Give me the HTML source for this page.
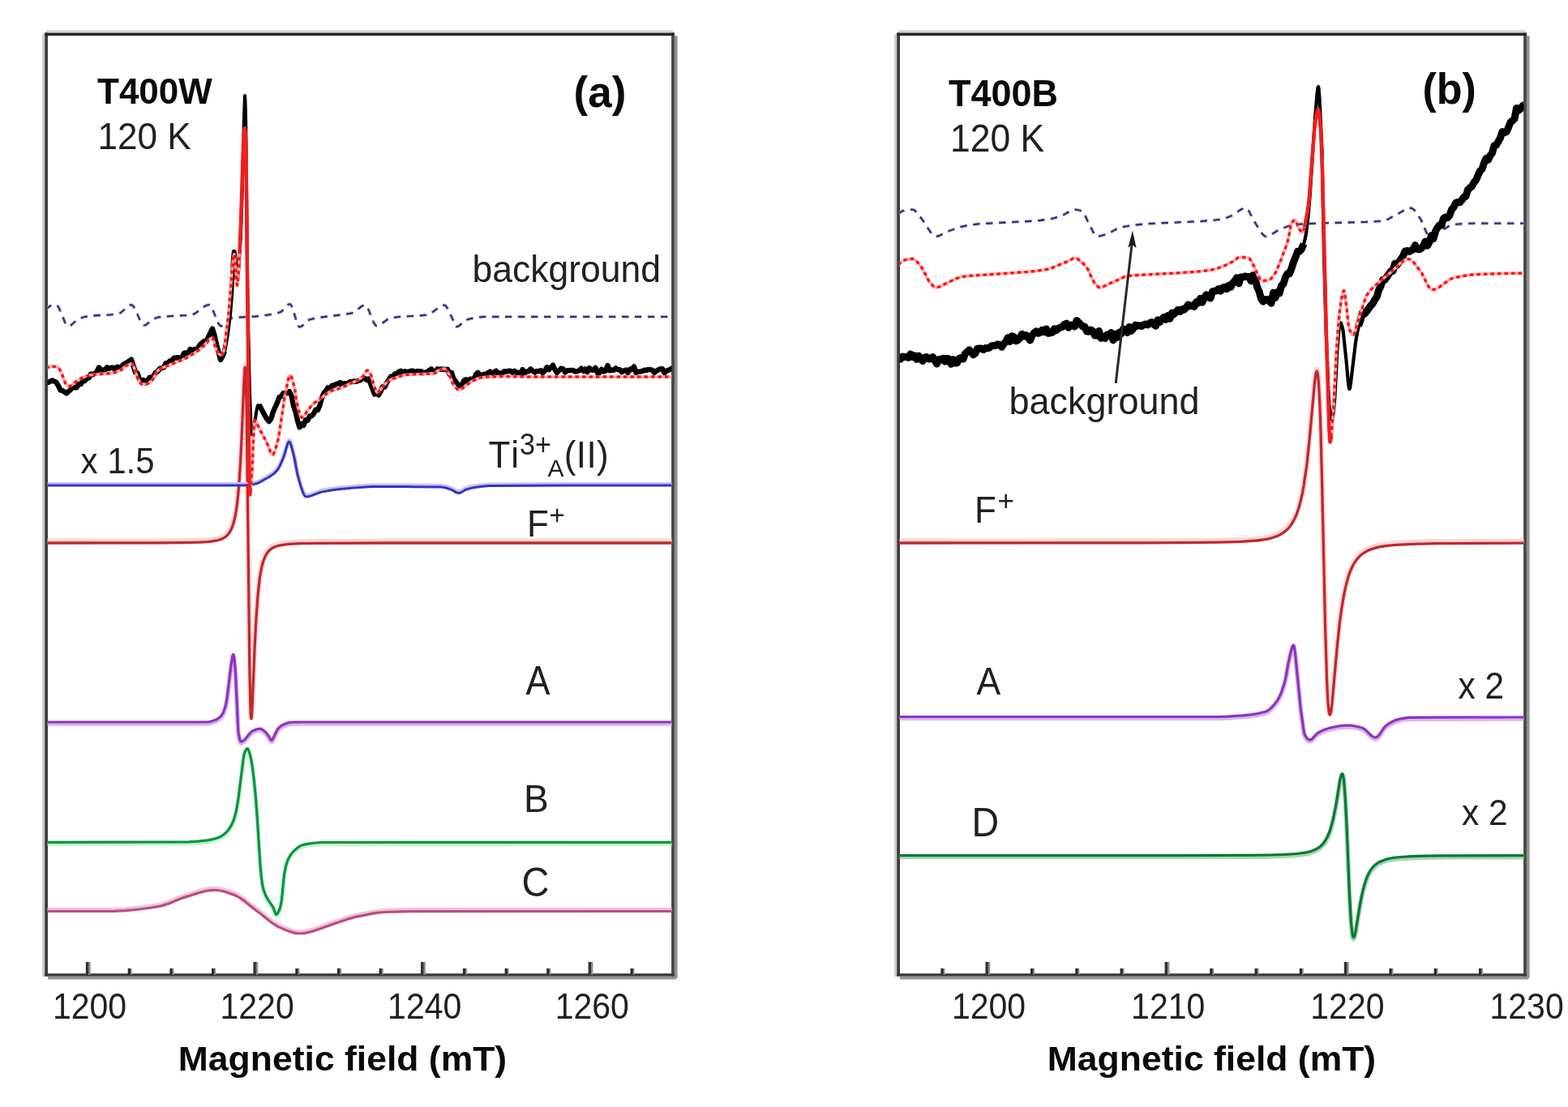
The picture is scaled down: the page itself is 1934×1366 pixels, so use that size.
<!DOCTYPE html><html><head><meta charset="utf-8"><style>html,body{margin:0;padding:0;background:#fff;}svg{display:block}</style></head><body><svg width="1934" height="1366" viewBox="0 0 1934 1366"><rect width="1934" height="1366" fill="#fff"/><line x1="53.6" y1="42.2" x2="53.6" y2="1205" stroke="#cacaca" stroke-width="3"/><line x1="57.1" y1="38.7" x2="830" y2="38.7" stroke="#d2d2d2" stroke-width="3"/><line x1="833.8" y1="44.2" x2="833.8" y2="1207" stroke="#909090" stroke-width="3.6"/><line x1="59.1" y1="1206.8" x2="834" y2="1206.8" stroke="#929292" stroke-width="3.6"/><line x1="57.1" y1="40.4" x2="57.1" y2="1204.8" stroke="#3c3c3c" stroke-width="3.8"/><line x1="830" y1="40.4" x2="830" y2="1204.8" stroke="#464646" stroke-width="3.8"/><line x1="55.3" y1="42.2" x2="831.8" y2="42.2" stroke="#252525" stroke-width="3.6"/><line x1="55.3" y1="1203" x2="831.8" y2="1203" stroke="#3a3a3a" stroke-width="3.6"/><line x1="1104.6" y1="42.2" x2="1104.6" y2="1205" stroke="#cacaca" stroke-width="3"/><line x1="1108.1" y1="38.7" x2="1881" y2="38.7" stroke="#d2d2d2" stroke-width="3"/><line x1="1884.8" y1="44.2" x2="1884.8" y2="1207" stroke="#909090" stroke-width="3.6"/><line x1="1110.1" y1="1206.8" x2="1885" y2="1206.8" stroke="#929292" stroke-width="3.6"/><line x1="1108.1" y1="40.4" x2="1108.1" y2="1204.8" stroke="#3c3c3c" stroke-width="3.8"/><line x1="1881" y1="40.4" x2="1881" y2="1204.8" stroke="#464646" stroke-width="3.8"/><line x1="1106.3" y1="42.2" x2="1882.8" y2="42.2" stroke="#252525" stroke-width="3.6"/><line x1="1106.3" y1="1203" x2="1882.8" y2="1203" stroke="#3a3a3a" stroke-width="3.6"/><line x1="110.1" y1="1187" x2="110.1" y2="1203" stroke="#8a8a8a" stroke-width="3"/><line x1="107.5" y1="1187" x2="107.5" y2="1203" stroke="#333" stroke-width="3.4"/><line x1="316.7" y1="1187" x2="316.7" y2="1203" stroke="#8a8a8a" stroke-width="3"/><line x1="314.1" y1="1187" x2="314.1" y2="1203" stroke="#333" stroke-width="3.4"/><line x1="523.3" y1="1187" x2="523.3" y2="1203" stroke="#8a8a8a" stroke-width="3"/><line x1="520.7" y1="1187" x2="520.7" y2="1203" stroke="#333" stroke-width="3.4"/><line x1="729.9" y1="1187" x2="729.9" y2="1203" stroke="#8a8a8a" stroke-width="3"/><line x1="727.3" y1="1187" x2="727.3" y2="1203" stroke="#333" stroke-width="3.4"/><line x1="161.4" y1="1195" x2="161.4" y2="1203" stroke="#8a8a8a" stroke-width="2.6"/><line x1="159.3" y1="1195" x2="159.3" y2="1203" stroke="#2a2a2a" stroke-width="3.2"/><line x1="213.1" y1="1195" x2="213.1" y2="1203" stroke="#8a8a8a" stroke-width="2.6"/><line x1="211" y1="1195" x2="211" y2="1203" stroke="#2a2a2a" stroke-width="3.2"/><line x1="264.8" y1="1195" x2="264.8" y2="1203" stroke="#8a8a8a" stroke-width="2.6"/><line x1="262.6" y1="1195" x2="262.6" y2="1203" stroke="#2a2a2a" stroke-width="3.2"/><line x1="368.1" y1="1195" x2="368.1" y2="1203" stroke="#8a8a8a" stroke-width="2.6"/><line x1="365.9" y1="1195" x2="365.9" y2="1203" stroke="#2a2a2a" stroke-width="3.2"/><line x1="419.7" y1="1195" x2="419.7" y2="1203" stroke="#8a8a8a" stroke-width="2.6"/><line x1="417.6" y1="1195" x2="417.6" y2="1203" stroke="#2a2a2a" stroke-width="3.2"/><line x1="471.4" y1="1195" x2="471.4" y2="1203" stroke="#8a8a8a" stroke-width="2.6"/><line x1="469.2" y1="1195" x2="469.2" y2="1203" stroke="#2a2a2a" stroke-width="3.2"/><line x1="574.6" y1="1195" x2="574.6" y2="1203" stroke="#8a8a8a" stroke-width="2.6"/><line x1="572.5" y1="1195" x2="572.5" y2="1203" stroke="#2a2a2a" stroke-width="3.2"/><line x1="626.3" y1="1195" x2="626.3" y2="1203" stroke="#8a8a8a" stroke-width="2.6"/><line x1="624.2" y1="1195" x2="624.2" y2="1203" stroke="#2a2a2a" stroke-width="3.2"/><line x1="677.9" y1="1195" x2="677.9" y2="1203" stroke="#8a8a8a" stroke-width="2.6"/><line x1="675.8" y1="1195" x2="675.8" y2="1203" stroke="#2a2a2a" stroke-width="3.2"/><line x1="781.2" y1="1195" x2="781.2" y2="1203" stroke="#8a8a8a" stroke-width="2.6"/><line x1="779.1" y1="1195" x2="779.1" y2="1203" stroke="#2a2a2a" stroke-width="3.2"/><line x1="1219.7" y1="1187" x2="1219.7" y2="1203" stroke="#8a8a8a" stroke-width="3"/><line x1="1217.1" y1="1187" x2="1217.1" y2="1203" stroke="#333" stroke-width="3.4"/><line x1="1440.9" y1="1187" x2="1440.9" y2="1203" stroke="#8a8a8a" stroke-width="3"/><line x1="1438.3" y1="1187" x2="1438.3" y2="1203" stroke="#333" stroke-width="3.4"/><line x1="1662.1" y1="1187" x2="1662.1" y2="1203" stroke="#8a8a8a" stroke-width="3"/><line x1="1659.5" y1="1187" x2="1659.5" y2="1203" stroke="#333" stroke-width="3.4"/><line x1="1164.1" y1="1195" x2="1164.1" y2="1203" stroke="#8a8a8a" stroke-width="2.6"/><line x1="1162" y1="1195" x2="1162" y2="1203" stroke="#2a2a2a" stroke-width="3.2"/><line x1="1274.7" y1="1195" x2="1274.7" y2="1203" stroke="#8a8a8a" stroke-width="2.6"/><line x1="1272.6" y1="1195" x2="1272.6" y2="1203" stroke="#2a2a2a" stroke-width="3.2"/><line x1="1330" y1="1195" x2="1330" y2="1203" stroke="#8a8a8a" stroke-width="2.6"/><line x1="1327.9" y1="1195" x2="1327.9" y2="1203" stroke="#2a2a2a" stroke-width="3.2"/><line x1="1385.3" y1="1195" x2="1385.3" y2="1203" stroke="#8a8a8a" stroke-width="2.6"/><line x1="1383.2" y1="1195" x2="1383.2" y2="1203" stroke="#2a2a2a" stroke-width="3.2"/><line x1="1495.9" y1="1195" x2="1495.9" y2="1203" stroke="#8a8a8a" stroke-width="2.6"/><line x1="1493.8" y1="1195" x2="1493.8" y2="1203" stroke="#2a2a2a" stroke-width="3.2"/><line x1="1551.2" y1="1195" x2="1551.2" y2="1203" stroke="#8a8a8a" stroke-width="2.6"/><line x1="1549.1" y1="1195" x2="1549.1" y2="1203" stroke="#2a2a2a" stroke-width="3.2"/><line x1="1606.5" y1="1195" x2="1606.5" y2="1203" stroke="#8a8a8a" stroke-width="2.6"/><line x1="1604.4" y1="1195" x2="1604.4" y2="1203" stroke="#2a2a2a" stroke-width="3.2"/><line x1="1717.1" y1="1195" x2="1717.1" y2="1203" stroke="#8a8a8a" stroke-width="2.6"/><line x1="1715" y1="1195" x2="1715" y2="1203" stroke="#2a2a2a" stroke-width="3.2"/><line x1="1772.4" y1="1195" x2="1772.4" y2="1203" stroke="#8a8a8a" stroke-width="2.6"/><line x1="1770.3" y1="1195" x2="1770.3" y2="1203" stroke="#2a2a2a" stroke-width="3.2"/><line x1="1827.7" y1="1195" x2="1827.7" y2="1203" stroke="#8a8a8a" stroke-width="2.6"/><line x1="1825.6" y1="1195" x2="1825.6" y2="1203" stroke="#2a2a2a" stroke-width="3.2"/><defs><clipPath id="ca"><rect x="58.6" y="43.7" width="769.9" height="1157.8"/></clipPath><clipPath id="cb"><rect x="1109.6" y="43.7" width="769.9" height="1157.8"/></clipPath></defs><g clip-path="url(#ca)"><path d="M57 1122.7L141 1122.6L156 1121.9L172 1120.2L187 1118.2L199 1116.1L207 1113.6L225 1106.3L247 1099.4L253 1097.9L258 1097L263 1096.5L268 1096.7L274 1097.7L280 1099.4L290 1103L295 1105.6L302 1110.6L313 1119.5L321 1125.5L334 1135.9L339 1139.4L343 1141.8L353 1146.1L359 1148.3L365 1149.8L370 1150.2L377 1149.5L385 1147.6L406 1140.2L431 1131.8L438 1129.8L459 1125.6L467 1124.4L475 1123.7L495 1123.1L518 1122.8L830 1122.7" fill="none" stroke="#f4c0d8" stroke-width="5.5" stroke-linejoin="round"/><path d="M57 1124.5L141 1124.4L156 1123.7L172 1122L187 1120L199 1117.9L207 1115.4L225 1108.1L247 1101.2L253 1099.7L258 1098.8L263 1098.3L268 1098.5L274 1099.5L280 1101.2L290 1104.8L295 1107.4L302 1112.4L313 1121.3L321 1127.3L334 1137.7L339 1141.2L343 1143.6L353 1147.9L359 1150.1L365 1151.6L370 1152L377 1151.3L385 1149.4L406 1142L431 1133.6L438 1131.6L459 1127.4L467 1126.2L475 1125.5L495 1124.9L518 1124.6L830 1124.5" fill="none" stroke="#b84c80" stroke-width="3.2" stroke-linejoin="round"/><path d="M57 1041.1L233 1040.7L244 1040L257.5 1038.4L264.5 1036.9L271 1034.7L273.5 1033.3L276.5 1031L279.5 1028.3L281.5 1026L284 1022.4L286 1018.7L287.5 1015.6L289 1011.4L291.5 1001.7L294 987.1L300.5 935.3L301 932.8L302.5 928.7L304 925.9L305 925.3L305.5 925.6L306 926.3L307 928.8L308.5 933.4L309.5 937.6L311 945.8L313 961.5L315 981.3L317 1006.5L321 1069.8L322.5 1085.2L323.5 1092.9L325 1099.4L327.5 1106.2L330.5 1112L336.5 1120.7L337.5 1122.8L339.5 1128.6L340.5 1130.2L341 1130.3L342 1129.4L344 1125.8L345.5 1121.7L346.5 1117.7L347.5 1111.2L350.5 1080.9L353 1068.7L355 1062.9L357 1058.9L359.5 1055.1L362 1052.3L366 1048.7L369 1046.5L372 1044.9L374 1044.2L379 1043.2L388.5 1041.8L397.5 1041.3L830 1041.1" fill="none" stroke="#c8f0d4" stroke-width="5.8" stroke-linejoin="round"/><path d="M57 1039.3L233 1038.9L244 1038.2L257.5 1036.6L264.5 1035.1L271 1032.9L273.5 1031.5L276.5 1029.2L279.5 1026.5L281.5 1024.2L284 1020.6L286 1016.9L287.5 1013.8L289 1009.6L291.5 999.9L294 985.3L300.5 933.5L301 931L302.5 926.9L304 924.1L305 923.5L305.5 923.8L306 924.5L307 927L308.5 931.6L309.5 935.8L311 944L313 959.7L315 979.5L317 1004.7L321 1068L322.5 1083.4L323.5 1091.1L325 1097.6L327.5 1104.4L330.5 1110.2L336.5 1118.9L337.5 1121L339.5 1126.8L340.5 1128.4L341 1128.5L342 1127.6L344 1124L345.5 1119.9L346.5 1115.9L347.5 1109.4L350.5 1079.1L353 1066.9L355 1061.1L357 1057.1L359.5 1053.3L362 1050.5L366 1046.9L369 1044.7L372 1043.1L374 1042.4L379 1041.4L388.5 1040L397.5 1039.5L830 1039.3" fill="none" stroke="#00963a" stroke-width="3.2" stroke-linejoin="round"/><path d="M57 892.8L255.2 892.8L259.2 892.3L264.5 890.6L266.8 889.7L269 888.4L271.2 886.7L272.8 885.1L274.2 883.1L275.5 880.8L277.8 874.3L279 869.1L280.2 862L284.5 826.8L286.2 814.8L287 810.7L287.5 809.3L287.8 809.2L288.2 810.5L289 815.4L290.5 831.7L293.8 904.2L295.5 913.4L296.5 916.1L297.2 916.9L298.2 916.8L299.2 916.3L302 914.4L308.2 906.6L311 904L316 901.9L318.2 901.3L320.5 901L321.8 901.1L323.2 901.7L327.5 905L331.2 909.8L333.8 914.4L334.5 915.2L335 915.3L335.8 914.7L336.5 913.5L342 902.2L343.8 900L346 897.9L350 895.7L354.5 893.9L357.5 893.3L363.5 893L370 892.8L830 892.8" fill="none" stroke="#dcb4ec" stroke-width="5.8" stroke-linejoin="round"/><path d="M57 891L255.2 891L259.2 890.5L264.5 888.8L266.8 887.9L269 886.6L271.2 884.9L272.8 883.3L274.2 881.3L275.5 879L277.8 872.5L279 867.3L280.2 860.2L284.5 825L286.2 813L287 808.9L287.5 807.5L287.8 807.4L288.2 808.7L289 813.6L290.5 829.9L293.8 902.4L295.5 911.6L296.5 914.3L297.2 915.1L298.2 915L299.2 914.5L302 912.6L308.2 904.8L311 902.2L316 900.1L318.2 899.5L320.5 899.2L321.8 899.3L323.2 899.9L327.5 903.2L331.2 908L333.8 912.6L334.5 913.4L335 913.5L335.8 912.9L336.5 911.7L342 900.4L343.8 898.2L346 896.1L350 893.9L354.5 892.1L357.5 891.5L363.5 891.2L370 891L830 891" fill="none" stroke="#8c34c0" stroke-width="3.2" stroke-linejoin="round"/><path d="M57 668L199 667.9L227.2 667.6L245 667.2L258.2 666.4L267.5 665L271.2 663.9L274.2 662.7L277 661.2L279.2 659.5L281.8 656.9L284 653.5L286 649.4L287.8 644.5L289.2 638.8L290.5 632.8L291.8 625.1L293 615.3L294.8 596.6L296.5 570.2L298 540L301 467L301.8 454.6L302.2 451.1L302.5 451.3L302.8 453.1L303.2 462L304.2 505.4L307.8 817.5L308.8 868.2L309.2 880.3L309.8 884.9L310 884.8L310.5 880.8L311.2 868L314.2 794.9L316 760.6L318 732.8L320.2 712.3L321.8 703L323.2 695.9L325 689.8L327 684.8L329.2 680.8L332 677.4L335.2 674.8L339 672.8L342.2 671.7L346 670.8L356 669.4L370.2 668.7L392.5 668.3L477.2 668L830 668" fill="none" stroke="#fdd8d8" stroke-width="7" stroke-linejoin="round"/><path d="M57 670L199 669.9L227.2 669.6L245 669.2L258.2 668.4L267.5 667L271.2 665.9L274.2 664.7L277 663.2L279.2 661.5L281.8 658.9L284 655.5L286 651.4L287.8 646.5L289.2 640.8L290.5 634.8L291.8 627.1L293 617.3L294.8 598.6L296.5 572.2L298 542L301 469L301.8 456.6L302.2 453.1L302.5 453.3L302.8 455.1L303.2 464L304.2 507.4L307.8 819.5L308.8 870.2L309.2 882.3L309.8 886.9L310 886.8L310.5 882.8L311.2 870L314.2 796.9L316 762.6L318 734.8L320.2 714.3L321.8 705L323.2 697.9L325 691.8L327 686.8L329.2 682.8L332 679.4L335.2 676.8L339 674.8L342.2 673.7L346 672.8L356 671.4L370.2 670.7L392.5 670.3L477.2 670L830 670" fill="none" stroke="#c0282c" stroke-width="3.3" stroke-linejoin="round"/><path d="M57 597.4L300.5 597.4L306.5 597L313.5 595.9L316.5 595.2L320 593.7L332.5 586.7L338 582.8L342 578.8L345 573.7L350 562.2L354.5 546.9L355.5 544.5L356.5 543.4L357 543.5L358 544.9L360 551.1L363 563.3L367 584.4L371 598.5L373 604.6L374.5 608.1L376 610.5L377 611.3L377.5 611.4L380 611.2L383 610.5L395.5 605.8L409.5 603.2L420 601.8L433 600.7L447 599.6L458.5 599L502 599L544.5 599.5L549 600.2L556 602.4L558 603.3L563 606.3L565.5 606.9L567 606.7L568.5 606.1L574.5 602.6L580 601L584 600.1L592.5 598.9L602.5 597.9L698.5 597.5L830 597.4" fill="none" stroke="#c4c4ee" stroke-width="5" stroke-linejoin="round"/><path d="M57 599L300.5 599L306.5 598.6L313.5 597.5L316.5 596.8L320 595.3L332.5 588.3L338 584.4L342 580.4L345 575.3L350 563.8L354.5 548.5L355.5 546.1L356.5 545L357 545.1L358 546.5L360 552.7L363 564.9L367 586L371 600.1L373 606.2L374.5 609.7L376 612.1L377 612.9L377.5 613L380 612.8L383 612.1L395.5 607.4L409.5 604.8L420 603.4L433 602.3L447 601.2L458.5 600.6L502 600.6L544.5 601.1L549 601.8L556 604L558 604.9L563 607.9L565.5 608.5L567 608.3L568.5 607.7L574.5 604.2L580 602.6L584 601.7L592.5 600.5L602.5 599.5L698.5 599.1L830 599" fill="none" stroke="#3434c4" stroke-width="3" stroke-linejoin="round"/><path d="M57 382.3L58.5 380.3L60 378.8L63 377L65 376.4L67.5 376.2L69.5 376.3L70.5 376.8L72 378.7L73.5 381.6L80.5 398.5L82.5 401.5L84 402.4L86 402L88 400.9L94 395.6L96.5 393.8L101 392L105 390.8L113.5 389.6L136.5 388.3L146.5 387.1L148 386.4L150 385L158 377.7L160 376.6L162 376.2L163 376.5L164 377.4L166 380.3L168 384.3L172.5 394.6L174.5 398.3L176.5 400.8L178 401.4L179.5 401.1L181 400.2L187.5 394.7L192 392.5L195 391.5L205.5 390.3L229.5 389.1L235.5 388.4L238 387.9L240 387.1L242 385.8L249.5 380L252.5 377.9L255 376.7L257.5 376.2L258.5 376.4L259.5 377.2L261.5 380.3L263.5 384.8L267.5 395L269.5 399.2L271.5 401.9L273 402.4L274.5 402L276 401.2L278 399.5L283.5 394.1L285 393L286.5 392.4L295 391.5L314.5 390.5L325 389.4L336 387.7L345.5 385.3L348 383.6L354.5 376.6L356 375.6L357.5 375.2L358.5 375.7L360 378.3L361.5 382.4L366.5 398.8L368 402.1L369 403.2L369.5 403.4L371 403.1L372.5 402.3L379 396.1L381.5 394.5L386 393.3L391.5 392.3L403.5 390.5L423.5 388.3L434 386.3L435.5 385.8L437.5 384.6L446 378L448 377L450 376.6L450.5 376.6L451.5 377.2L453 379.1L455 383.3L459 393.6L461 398.2L463 401.2L464.5 402L466.5 401.7L469 400.5L478.5 393.8L480.5 393L483.5 392.3L489 391.3L494.5 390.7L519 389.4L527.5 388.5L529.5 387.7L532 386.3L542.5 378.5L545.5 377.1L548 376.6L549 376.8L549.5 377.1L551.5 379.8L557.5 392L561 400.2L562.5 402.5L563.5 403.1L565 402.8L566.5 401.9L572.5 396.3L574 395.3L575.5 394.6L580 393.3L584.5 392.3L592 391.3L597.5 390.9L830 390.8" fill="none" stroke="#cfcfe4" stroke-width="4.6" stroke-linejoin="round" stroke-dasharray="8.5 7.5"/><path d="M57 382.3L58.5 380.3L60 378.8L63 377L65 376.4L67.5 376.2L69.5 376.3L70.5 376.8L72 378.7L73.5 381.6L80.5 398.5L82.5 401.5L84 402.4L86 402L88 400.9L94 395.6L96.5 393.8L101 392L105 390.8L113.5 389.6L136.5 388.3L146.5 387.1L148 386.4L150 385L158 377.7L160 376.6L162 376.2L163 376.5L164 377.4L166 380.3L168 384.3L172.5 394.6L174.5 398.3L176.5 400.8L178 401.4L179.5 401.1L181 400.2L187.5 394.7L192 392.5L195 391.5L205.5 390.3L229.5 389.1L235.5 388.4L238 387.9L240 387.1L242 385.8L249.5 380L252.5 377.9L255 376.7L257.5 376.2L258.5 376.4L259.5 377.2L261.5 380.3L263.5 384.8L267.5 395L269.5 399.2L271.5 401.9L273 402.4L274.5 402L276 401.2L278 399.5L283.5 394.1L285 393L286.5 392.4L295 391.5L314.5 390.5L325 389.4L336 387.7L345.5 385.3L348 383.6L354.5 376.6L356 375.6L357.5 375.2L358.5 375.7L360 378.3L361.5 382.4L366.5 398.8L368 402.1L369 403.2L369.5 403.4L371 403.1L372.5 402.3L379 396.1L381.5 394.5L386 393.3L391.5 392.3L403.5 390.5L423.5 388.3L434 386.3L435.5 385.8L437.5 384.6L446 378L448 377L450 376.6L450.5 376.6L451.5 377.2L453 379.1L455 383.3L459 393.6L461 398.2L463 401.2L464.5 402L466.5 401.7L469 400.5L478.5 393.8L480.5 393L483.5 392.3L489 391.3L494.5 390.7L519 389.4L527.5 388.5L529.5 387.7L532 386.3L542.5 378.5L545.5 377.1L548 376.6L549 376.8L549.5 377.1L551.5 379.8L557.5 392L561 400.2L562.5 402.5L563.5 403.1L565 402.8L566.5 401.9L572.5 396.3L574 395.3L575.5 394.6L580 393.3L584.5 392.3L592 391.3L597.5 390.9L830 390.8" fill="none" stroke="#2e2e7c" stroke-width="2.3" stroke-linejoin="round" stroke-dasharray="8.5 7.5"/><path d="M57 472L59.5 471.9L64.5 469.4L69.5 471.9L72 476.1L74.5 481.5L77 481.9L82 485.3L87 480.8L89.5 477.6L94.5 478.3L97 473.6L99.5 474.1L102 470.4L104.5 470.1L107 466.8L109.5 466.4L112 461.6L114.5 462.4L119.5 458.7L122 453.5L124.5 456.2L127 456.5L129.5 456.5L132 453.3L134.5 454.9L137 453.8L139.5 453.7L142 456.4L144.5 452.6L149.5 453.7L152 449.8L157 447.2L162 443.6L167 459.3L169.5 460.5L172 468.3L174.5 469.7L177 468.9L179.5 472.9L182 470.1L184.5 465.7L187 465.8L189.5 463.8L192 459.7L194.5 458.5L197 454.9L202 453.5L204.5 448.2L207 448.1L209.5 445.5L212 445.1L214.5 441.7L219.5 441.2L222 441.9L224.5 441.1L227 435.8L229.5 435.5L232 436.6L234.5 431L237 432.1L239.5 431.2L242 431.7L244.5 428.8L247 425.1L249.5 422.8L252 420.9L254.5 421.6L257 415.7L262 405.6L264.5 413.6L267 425L272 444L274.5 439.6L277 433.7" fill="none" stroke="#000" stroke-width="6.4" stroke-linejoin="round"/><path d="M276 436L277.5 429.1L280.5 410.8L283.5 386.6L285.5 362.4L287.5 321.6L288.5 310.4L289 310.6L289.5 314L292 343.3L292.5 345L293 344" fill="none" stroke="#000" stroke-width="5.4" stroke-linejoin="round"/><path d="M292.5 345L293 344L293.5 341.1L294.5 330.8L297 290.2L299 230L301 143.1L302 118L302.5 124.7L303 141.5L303.5 173.4L305 330L306 394.4L308 485.1L309.5 524.2L310 532.7L310.5 536L311.5 534.5L313 527.8L317 503.7L318 500.6L318.5 500L320 500.6" fill="none" stroke="#000" stroke-width="4" stroke-linejoin="round"/><path d="M319.5 499.3L327 513.4L329.5 517.4L332 520L334.5 516.4L337 507.8L342 496.9L344.5 489.9L347 489L349.5 485.1L352 486.1L354.5 483.7L357 483.1L359.5 488.3L362 500.8L364.5 507.7L367 519.1L369.5 527.3L372 522.9L374.5 524.9L377 518.3L379.5 518.8L382 513.2L384.5 513.2L387 510.3L389.5 505.4L392 505.9L394.5 500L397 490.9L399.5 485.1L402 482.1L404.5 478.4L407 479.6L409.5 475.8L412 475.7L414.5 473.9L417 473.5L419.5 472.1L422 475.5L424.5 472.9L427 474.2L432 470.9L434.5 471.1L437 470.3L439.5 470.8L442 469.7L444.5 469.3L447 466.9L449.5 466.7L452 468.7L454.5 467.5L457 473.2L462 486.4L464.5 485L467 487.3L469.5 483.1L472 477.1L474.5 477.5L477 472.3L482 464.7L484.5 464.8L487 461.4L489.5 460.9L492 458.6L494.5 457.8L497 461.6L499.5 458.2L502 459.4L507 457.8L509.5 457.6L512 459.5L514.5 457.9L517 458.1L519.5 458.3L522 460.3L527 458.7L532 455.3L534.5 459.2L537 458.6L539.5 455.3L542 455.8L547 455.5L549.5 456.1L552 455.7L554.5 462.1L557 459.9L559.5 467.4L564.5 474.1L567 476.4L569.5 475.4L572 470L574.5 468.3L577 472.2L579.5 467.7L584.5 468.1L587 461.9L589.5 459.8L592 463.5L597 461.8L599.5 462L602 460L604.5 458.6L607 460.9L612 457.7L614.5 461.6L617 460.3L619.5 461L622 458.1L624.5 458.6L627 457.8L629.5 457.8L632 459.8L634.5 457.7L637 459.8L639.5 459.7L642 462.9L644.5 456L647 460.4L649.5 458.4L652 458.4L654.5 455.4L659.5 459.6L662 457.9L664.5 458.1L667 457.2L669.5 460.1L672 457.6L674.5 453.1L677 456.1L682 450.7L684.5 456.2L687 459.9L692 454.7L694.5 455.1L697 459.4L699.5 457.3L704.5 456.9L707 457L709.5 458.6L712 458.1L714.5 457.3L717 454.7L719.5 457.9L722 455.4L724.5 459.1L727 454.1L729.5 456.5L732 456.8L734.5 453.9L737 460.4L739.5 459.9L742 455.7L744.5 458.4L747 457.5L749.5 451L752 457.2L754.5 456.5L757 456.8L759.5 454.3L762 456.1L764.5 456.2L767 459.2L769.5 457.3L772 456.6L774.5 460L777 455.4L779.5 455.7L782 452.5L784.5 460L787 458.7L789.5 458.6L792 458L794.5 456.8L797 457L799.5 456L802 456.1L804.5 456.6L807 459.9L809.5 457.8L812 456.4L814.5 455.2L817 455.1L819.5 460.2L822 457.7L827 455.7L829.5 454" fill="none" stroke="#000" stroke-width="6.4" stroke-linejoin="round"/><path d="M57 455L59.8 452.8L61.8 452L68.2 452.4L70.2 452.8L71.2 453.3L73 455.1L75.2 458.4L80 471.4L81.2 474.1L82 475L83.5 475.9L84.8 476.4L86 476.6L87.8 475.9L91.8 472.2L97 468.7L102.8 465.6L107 463.8L109.2 463.1L112 462.7L137 460.4L141.5 459.7L145.2 458.4L150.2 455.9L155.5 451.5L157.2 450.3L160.5 449.3L163 449L163.8 449.5L164.5 450.9L169.5 465.8L172.8 472.1L173.8 473.4L174.8 474L180.2 474L181.8 473.6L183.2 472.9L187.5 469.5L189.2 466.9L193.5 458.8L194.5 457.5L196 456.3L198.8 454.6L201.8 453.2L224.2 444.3L230 441.5L235.8 438.3L242.5 433.9L247.8 430L251 427L256.8 420L259.2 418.1L261 417.2L262 417L262.8 417.9L265.8 429.4L268.8 435.7L269.8 436.8L271.8 437.8L273.2 438L274 437.4L275 435.8L276.2 432.5L277 430L277.5 426.7L279 410L281.8 389.3L286.5 330.8L287.5 320.7L288.2 315.6L288.8 313.9L289 313.7L289.5 315.8L292 349.9L292.5 352L292.8 351.6L293.2 348.4L294.5 330.2L296.5 288.7L300.2 174.5L301 163.4L301.8 158L302.2 159.9L303 170L303.8 210.2L307.2 565.8L307.8 604.6L308 610.5L308.5 609.2L309.2 603.1L311 580L313.2 526.6L313.8 519.9L314 519L315.2 519.7L316.5 521.5L320.5 530.1L328.8 545.5L334.2 559.3L335 560.4L335.8 561L336.5 560.9L337.2 560.2L338.5 557.8L339.8 554.4L343.5 540.4L351.5 487.5L355.5 468.2L356.8 464.4L357.2 463.6L357.8 463.3L358.8 464L359.8 465.9L362.2 474.4L363.8 481.2L365.5 493.8L368.2 506L369.2 509.2L371 513.4L371.8 514.7L372.5 515.3L373.5 515L374.5 514L378.5 507.9L383.5 501.4L385.8 498.9L388.2 496.8L394.5 492.6L401.5 486.9L406 483.9L409.2 482.1L417.2 479.7L421 478.3L426 476.2L433 472.6L439 470.4L441.5 469.2L445 466.7L448.5 463.4L449.5 462L451.5 458.2L452.8 457L453.8 457.2L455 458.4L458 463.5L460.8 474.2L462.5 479.1L464.2 483.2L465 484.2L465.8 484.5L466.5 484.3L467.5 483.4L471.5 477.7L477.5 471.1L480 469.3L484.5 467.3L495.8 463.5L499.5 462.6L508 461.9L527 461.2L535.2 460.5L536.8 459.8L540.8 457.1L545 455.5L547.5 455L548.8 455.3L550 456.2L551.5 458.1L554 462L555.2 464.6L558.2 472.6L560.8 476.5L563.8 480L565 480.8L566 481L567.5 480.7L569.2 479.9L581.2 470.9L586.8 468.2L590.5 466.7L593.8 465.8L602.2 465L620 464.5L658.8 465L830 465" fill="none" stroke="#ffaaaa" stroke-width="3.5" stroke-linejoin="round"/><path d="M57 455L59.8 452.8L61.8 452L68.2 452.4L70.2 452.8L71.2 453.3L73 455.1L75.2 458.4L80 471.4L81.2 474.1L82 475L83.5 475.9L84.8 476.4L86 476.6L87.8 475.9L91.8 472.2L97 468.7L102.8 465.6L107 463.8L109.2 463.1L112 462.7L137 460.4L141.5 459.7L145.2 458.4L150.2 455.9L155.5 451.5L157.2 450.3L160.5 449.3L163 449L163.8 449.5L164.5 450.9L169.5 465.8L172.8 472.1L173.8 473.4L174.8 474L180.2 474L181.8 473.6L183.2 472.9L187.5 469.5L189.2 466.9L193.5 458.8L194.5 457.5L196 456.3L198.8 454.6L201.8 453.2L224.2 444.3L230 441.5L235.8 438.3L242.5 433.9L247.8 430L251 427L256.8 420L259.2 418.1L261 417.2L262 417L262.8 417.9L265.8 429.4L268.8 435.7L269.8 436.8L271.8 437.8L273.2 438L274 437.4L275 435.8L276.2 432.5L277 430L277.5 426.7L279 410L281.8 389.3L286.5 330.8L287.5 320.7L288.2 315.6L288.8 313.9L289 313.7L289.5 315.8L292 349.9L292.5 352L292.8 351.6L293.2 348.4L294.5 330.2L296.5 288.7L300.2 174.5L301 163.4L301.8 158L302.2 159.9L303 170L303.8 210.2L307.2 565.8L307.8 604.6L308 610.5L308.5 609.2L309.2 603.1L311 580L313.2 526.6L313.8 519.9L314 519L315.2 519.7L316.5 521.5L320.5 530.1L328.8 545.5L334.2 559.3L335 560.4L335.8 561L336.5 560.9L337.2 560.2L338.5 557.8L339.8 554.4L343.5 540.4L351.5 487.5L355.5 468.2L356.8 464.4L357.2 463.6L357.8 463.3L358.8 464L359.8 465.9L362.2 474.4L363.8 481.2L365.5 493.8L368.2 506L369.2 509.2L371 513.4L371.8 514.7L372.5 515.3L373.5 515L374.5 514L378.5 507.9L383.5 501.4L385.8 498.9L388.2 496.8L394.5 492.6L401.5 486.9L406 483.9L409.2 482.1L417.2 479.7L421 478.3L426 476.2L433 472.6L439 470.4L441.5 469.2L445 466.7L448.5 463.4L449.5 462L451.5 458.2L452.8 457L453.8 457.2L455 458.4L458 463.5L460.8 474.2L462.5 479.1L464.2 483.2L465 484.2L465.8 484.5L466.5 484.3L467.5 483.4L471.5 477.7L477.5 471.1L480 469.3L484.5 467.3L495.8 463.5L499.5 462.6L508 461.9L527 461.2L535.2 460.5L536.8 459.8L540.8 457.1L545 455.5L547.5 455L548.8 455.3L550 456.2L551.5 458.1L554 462L555.2 464.6L558.2 472.6L560.8 476.5L563.8 480L565 480.8L566 481L567.5 480.7L569.2 479.9L581.2 470.9L586.8 468.2L590.5 466.7L593.8 465.8L602.2 465L620 464.5L658.8 465L830 465" fill="none" stroke="#ff1414" stroke-width="3.5" stroke-linejoin="round" stroke-dasharray="4.5 4"/><path d="M295.5 310.1L297 275.2L300.2 174.5L301 163.4L301.8 158L302.2 159.9L303 170L304 230L305 350L306.2 454.4L307.5 588.8L308 610.5L308.5 609.2L309 605.6" fill="none" stroke="#f41c1c" stroke-width="4.4" stroke-linejoin="round"/></g><g clip-path="url(#cb)"><path d="M1108 1057.4L1438.2 1057.4L1538.2 1057.1L1566.2 1056.8L1585.5 1056.2L1599.5 1055.3L1609.8 1053.9L1615 1052.8L1619.5 1051.3L1623.2 1049.6L1626.8 1047.5L1630 1044.8L1632.8 1041.7L1635.2 1038L1637.5 1033.8L1639.2 1029.8L1641 1024.9L1644.2 1013L1647.5 996.8L1653 963.5L1654.2 958.4L1655 956.7L1655.5 956.4L1656 956.9L1656.5 958.2L1657.5 964L1659.2 985.2L1661 1020.3L1664.5 1105.8L1666.2 1137.2L1667.8 1152.7L1668.5 1156.6L1669 1157.9L1669.5 1158.4L1670 1158.1L1670.8 1156.4L1672 1151.3L1677.2 1119.4L1680 1105.1L1682.2 1095.8L1684.8 1087.7L1686.5 1083.2L1688.2 1079.5L1690.2 1076L1692.2 1073.1L1694.5 1070.5L1697 1068.3L1699.8 1066.3L1702.8 1064.7L1709.2 1062.2L1717.2 1060.5L1727.5 1059.3L1741.2 1058.5L1759 1058L1784 1057.7L1881 1057.5" fill="none" stroke="#acd4b4" stroke-width="5.8" stroke-linejoin="round"/><path d="M1108 1055.6L1438.2 1055.6L1538.2 1055.3L1566.2 1055L1585.5 1054.4L1599.5 1053.5L1609.8 1052.1L1615 1051L1619.5 1049.5L1623.2 1047.8L1626.8 1045.7L1630 1043L1632.8 1039.9L1635.2 1036.2L1637.5 1032L1639.2 1028L1641 1023.1L1644.2 1011.2L1647.5 995L1653 961.7L1654.2 956.6L1655 954.9L1655.5 954.6L1656 955.1L1656.5 956.4L1657.5 962.2L1659.2 983.4L1661 1018.5L1664.5 1104L1666.2 1135.4L1667.8 1150.9L1668.5 1154.8L1669 1156.1L1669.5 1156.6L1670 1156.3L1670.8 1154.6L1672 1149.5L1677.2 1117.6L1680 1103.3L1682.2 1094L1684.8 1085.9L1686.5 1081.4L1688.2 1077.7L1690.2 1074.2L1692.2 1071.3L1694.5 1068.7L1697 1066.5L1699.8 1064.5L1702.8 1062.9L1709.2 1060.4L1717.2 1058.7L1727.5 1057.5L1741.2 1056.7L1759 1056.2L1784 1055.9L1881 1055.7" fill="none" stroke="#007a32" stroke-width="3.2" stroke-linejoin="round"/><path d="M1108 886.3L1501.8 886.3L1514.2 885.9L1532.2 884.6L1542.5 883.6L1550.8 882.4L1560.5 880.1L1562.5 879.3L1564.8 877.9L1568 875.1L1571.5 871.3L1575.2 866.5L1577.5 862.7L1580.8 855.4L1584.2 844.9L1585.8 838.2L1589.2 819.1L1592.2 806L1594 799.7L1594.8 798.2L1595.2 797.8L1595.8 798.1L1596.2 799.7L1597.5 807.8L1604.2 875.5L1607.8 901.7L1608.8 906.7L1609.5 908.8L1612.2 912.9L1613.5 914L1614.8 914.7L1616.5 914.6L1618.2 913.6L1623.8 907.6L1625.5 906.1L1629.8 903.8L1634 902L1639.2 900.2L1647.2 898.5L1654.2 897.3L1660.2 896.8L1664.8 896.9L1669.5 897.4L1675 898.5L1680.8 900.1L1684 902.2L1690.2 908.3L1692.5 910.2L1695 911.5L1696.2 911.8L1697.2 911.7L1699 910.8L1700.8 909L1706.5 900.7L1708.5 898.1L1709.8 897L1713.2 894.6L1718.2 891.8L1722.8 889.9L1729.2 888.4L1735.5 887.5L1739.8 887.2L1775.8 887L1881 886.8" fill="none" stroke="#dcb4ec" stroke-width="5.8" stroke-linejoin="round"/><path d="M1108 884.5L1501.8 884.5L1514.2 884.1L1532.2 882.8L1542.5 881.8L1550.8 880.6L1560.5 878.3L1562.5 877.5L1564.8 876.1L1568 873.3L1571.5 869.5L1575.2 864.7L1577.5 860.9L1580.8 853.6L1584.2 843.1L1585.8 836.4L1589.2 817.3L1592.2 804.2L1594 797.9L1594.8 796.4L1595.2 796L1595.8 796.3L1596.2 797.9L1597.5 806L1604.2 873.7L1607.8 899.9L1608.8 904.9L1609.5 907L1612.2 911.1L1613.5 912.2L1614.8 912.9L1616.5 912.8L1618.2 911.8L1623.8 905.8L1625.5 904.3L1629.8 902L1634 900.2L1639.2 898.4L1647.2 896.7L1654.2 895.5L1660.2 895L1664.8 895.1L1669.5 895.6L1675 896.7L1680.8 898.3L1684 900.4L1690.2 906.5L1692.5 908.4L1695 909.7L1696.2 910L1697.2 909.9L1699 909L1700.8 907.2L1706.5 898.9L1708.5 896.3L1709.8 895.2L1713.2 892.8L1718.2 890L1722.8 888.1L1729.2 886.6L1735.5 885.7L1739.8 885.4L1775.8 885.2L1881 885" fill="none" stroke="#8c34c0" stroke-width="3.2" stroke-linejoin="round"/><path d="M1108 668L1405.5 667.8L1465 667.6L1502.8 667.2L1530.8 666.4L1550.2 665L1558 664L1564.5 662.8L1570.2 661.3L1575.2 659.5L1580.5 656.9L1585.2 653.6L1589.2 649.8L1593 644.9L1596.2 639.3L1599.2 632.6L1602 624.5L1604.5 615.2L1606.5 606.1L1608.2 596.5L1611.8 572L1615.2 539.3L1621.5 470L1623 459.2L1623.8 456.5L1624.2 456L1625 457.7L1625.5 460.6L1626.5 471.3L1627.8 495.2L1628.8 523L1630.5 588.6L1634.5 768.1L1636.5 834.6L1637.2 851.8L1638.2 868L1639.2 877.1L1639.8 879.2L1640.2 880L1640.5 879.9L1641 878.9L1641.8 875.4L1643.2 863.6L1649.2 796.7L1652.2 768.1L1655 747.4L1657.8 731.2L1659.8 721.8L1661.8 714L1664 706.8L1666.2 701L1669 695.2L1671.8 690.7L1674.8 686.8L1678.2 683.2L1681.8 680.5L1685.5 678.3L1689.8 676.3L1694.8 674.6L1700.2 673.2L1706.5 672L1713.8 671.1L1722.2 670.3L1742.5 669.3L1771 668.6L1881 668.1" fill="none" stroke="#fdd8d8" stroke-width="7" stroke-linejoin="round"/><path d="M1108 670L1405.5 669.8L1465 669.6L1502.8 669.2L1530.8 668.4L1550.2 667L1558 666L1564.5 664.8L1570.2 663.3L1575.2 661.5L1580.5 658.9L1585.2 655.6L1589.2 651.8L1593 646.9L1596.2 641.3L1599.2 634.6L1602 626.5L1604.5 617.2L1606.5 608.1L1608.2 598.5L1611.8 574L1615.2 541.3L1621.5 472L1623 461.2L1623.8 458.5L1624.2 458L1625 459.7L1625.5 462.6L1626.5 473.3L1627.8 497.2L1628.8 525L1630.5 590.6L1634.5 770.1L1636.5 836.6L1637.2 853.8L1638.2 870L1639.2 879.1L1639.8 881.2L1640.2 882L1640.5 881.9L1641 880.9L1641.8 877.4L1643.2 865.6L1649.2 798.7L1652.2 770.1L1655 749.4L1657.8 733.2L1659.8 723.8L1661.8 716L1664 708.8L1666.2 703L1669 697.2L1671.8 692.7L1674.8 688.8L1678.2 685.2L1681.8 682.5L1685.5 680.3L1689.8 678.3L1694.8 676.6L1700.2 675.2L1706.5 674L1713.8 673.1L1722.2 672.3L1742.5 671.3L1771 670.6L1881 670.1" fill="none" stroke="#c0282c" stroke-width="3.3" stroke-linejoin="round"/><path d="M1108 263.8L1112 261L1114 260.1L1116.5 259.3L1119.5 258.8L1123.5 258.6L1126 258.6L1127.5 259.2L1129 260.3L1130.5 262L1138 271.5L1146 284L1149 288.1L1152 290.8L1153.5 291.5L1154.5 291.7L1156.5 291.5L1159 290.7L1168 286L1178 282.2L1184.5 280.1L1191 278.6L1200.5 277.1L1209.5 276.1L1269 273L1282 272L1292.5 270.8L1299.5 269.3L1308.5 266.6L1311.5 265.2L1320.5 260.1L1323.5 259L1326 258.6L1328.5 258.8L1331.5 259.5L1334.5 260.7L1336 261.9L1338 265.2L1341.5 272.8L1349 287.5L1351 290.4L1352 291.3L1353 291.7L1355.5 291.5L1358 291L1366.5 288.3L1369.5 286.8L1376.5 282.9L1379.5 281.6L1387 279.6L1395.5 278.2L1406 277L1420.5 275.8L1480 273.1L1494.5 272L1506 270.7L1511 269.4L1518.5 266.5L1521.5 264.8L1531 258.3L1534 257L1536.5 256.6L1538 257.2L1540 259.7L1546 271.4L1555.5 286.9L1558.5 290.3L1560 291.3L1561.5 291.7L1564 291.3L1567 290.1L1575.5 284.8L1578.5 283.2L1589.5 278.8L1593 277.7L1596 277.2L1607.5 276.3L1631 275.4L1684.5 273.9L1698 273.2L1706.5 272.5L1709.5 271.5L1712.5 270.2L1724.5 263.7L1734 258.2L1737 257L1739.5 256.6L1741 256.8L1743 257.9L1745 260L1747.5 263.4L1753 271.8L1758.5 284.8L1760.5 288.9L1762 290.9L1763.5 291.7L1766 291.3L1768.5 290.3L1787 279.1L1790 277.7L1792.5 277.1L1804.5 276.1L1817 275.6L1881 275.6" fill="none" stroke="#cfcfe4" stroke-width="4.6" stroke-linejoin="round" stroke-dasharray="8.5 7.5"/><path d="M1108 263.8L1112 261L1114 260.1L1116.5 259.3L1119.5 258.8L1123.5 258.6L1126 258.6L1127.5 259.2L1129 260.3L1130.5 262L1138 271.5L1146 284L1149 288.1L1152 290.8L1153.5 291.5L1154.5 291.7L1156.5 291.5L1159 290.7L1168 286L1178 282.2L1184.5 280.1L1191 278.6L1200.5 277.1L1209.5 276.1L1269 273L1282 272L1292.5 270.8L1299.5 269.3L1308.5 266.6L1311.5 265.2L1320.5 260.1L1323.5 259L1326 258.6L1328.5 258.8L1331.5 259.5L1334.5 260.7L1336 261.9L1338 265.2L1341.5 272.8L1349 287.5L1351 290.4L1352 291.3L1353 291.7L1355.5 291.5L1358 291L1366.5 288.3L1369.5 286.8L1376.5 282.9L1379.5 281.6L1387 279.6L1395.5 278.2L1406 277L1420.5 275.8L1480 273.1L1494.5 272L1506 270.7L1511 269.4L1518.5 266.5L1521.5 264.8L1531 258.3L1534 257L1536.5 256.6L1538 257.2L1540 259.7L1546 271.4L1555.5 286.9L1558.5 290.3L1560 291.3L1561.5 291.7L1564 291.3L1567 290.1L1575.5 284.8L1578.5 283.2L1589.5 278.8L1593 277.7L1596 277.2L1607.5 276.3L1631 275.4L1684.5 273.9L1698 273.2L1706.5 272.5L1709.5 271.5L1712.5 270.2L1724.5 263.7L1734 258.2L1737 257L1739.5 256.6L1741 256.8L1743 257.9L1745 260L1747.5 263.4L1753 271.8L1758.5 284.8L1760.5 288.9L1762 290.9L1763.5 291.7L1766 291.3L1768.5 290.3L1787 279.1L1790 277.7L1792.5 277.1L1804.5 276.1L1817 275.6L1881 275.6" fill="none" stroke="#2e2e7c" stroke-width="2.3" stroke-linejoin="round" stroke-dasharray="8.5 7.5"/><path d="M1108 440.8L1110.5 443.3L1113 440L1115.5 440.4L1118 440.4L1120.5 441.3L1123 436.9L1125.5 440.4L1128 438.8L1130.5 443.3L1133 439.1L1135.5 442.8L1138 445.5L1140.5 441L1143 440.6L1145.5 442.9L1148 442.8L1150.5 440.5L1155.5 449L1158 443.5L1160.5 444L1163 442.2L1165.5 446.1L1168 442.3L1170.5 442.9L1173 449.3L1175.5 443.6L1178 448.1L1180.5 447.7L1183 442.5L1185.5 441.2L1188 443.1L1190.5 436.3L1193 434.4L1195.5 431.7L1200.5 437.7L1203 435.8L1205.5 430.2L1208 429.9L1210.5 430.1L1213 431.5L1215.5 429.4L1218 429.7L1220.5 429.1L1223 426.7L1228 426.3L1230.5 424.8L1233 425.5L1235.5 428.2L1238 424.1L1240.5 422L1243 416.8L1245.5 421.5L1248 414.8L1250.5 415.5L1253 420.8L1255.5 419.7L1258 416.9L1260.5 412.2L1263 415L1265.5 413.6L1268 416.3L1270.5 419.9L1273 413.9L1275.5 410.6L1278 408.9L1280.5 411.2L1283 410.2L1285.5 407.1L1288 409.8L1290.5 405.9L1293 411.3L1298 410.2L1300.5 405.7L1303 407.6L1305.5 405.2L1308 403.9L1310.5 403.3L1313 400.1L1315.5 399.1L1318 404.3L1320.5 401L1323 401.4L1325.5 402.9L1328 395.4L1335.5 403L1338 403L1340.5 408.9L1343 409.2L1345.5 407L1348 408.7L1350.5 414.1L1353 413.9L1355.5 408.4L1358 417.2L1360.5 415.5L1363 417.5L1365.5 412.9L1368 412.9L1370.5 410.5L1373 419.7L1375.5 412.3L1378 416.5L1380.5 410.2L1383 411.7L1385.5 405.9L1390.5 410.5L1393 403.4L1395.5 408.3L1398 405.4L1400.5 401.2L1403 402.1L1405.5 401.8L1408 402.5L1410.5 400.9L1413 399.9L1415.5 401L1418 398.7L1420.5 397.6L1423 400.4L1425.5 402.2L1428 394.8L1430.5 397.4L1433 394L1435.5 391.4L1438 394.4L1440.5 389.4L1443 393.3L1445.5 386L1448 387.8L1453 382.3L1455.5 384.6L1458 381.5L1460.5 382.3L1463 379.6L1465.5 375.9L1468 377.6L1470.5 377L1473 378.5L1475.5 372.6L1478 373.8L1480.5 368.3L1483 373.1L1485.5 367.2L1488 363.7L1490.5 366.6L1493 368L1495.5 359.6L1500.5 358.7L1503 356.4L1505.5 359.2L1508 355.1L1510.5 354.4L1513 356.8L1515.5 352.2L1518 354.2L1520.5 349.2L1523 346.6L1525.5 342.7L1528 349.8L1530.5 342L1533 342L1535.5 340.9L1538 341.5L1540.5 341.4L1543 346.6L1545.5 339.6L1548 343.8L1550.5 353.9L1553 359.5L1555.5 368.6L1558 372L1560.5 369.6L1563 369.4L1565.5 371.4L1568 374.2L1570.5 361.1L1573 367.4L1575.5 360.2L1578 362.1L1580.5 352.5L1583 350.3L1585.5 342L1588 337.6L1590.5 337.8L1593 331.1L1595.5 323.1L1598 317.3L1600.5 310.2L1603 310.3L1605.5 307.2L1608 300.9" fill="none" stroke="#000" stroke-width="9" stroke-linejoin="round"/><path d="M1608 301.2L1609.5 295.5L1611 288L1613.5 266.9L1615.5 243.7L1622 146L1624.5 115.8L1625.5 108.1L1626 107L1626.5 108.9L1627.5 121.5L1630.5 183.8L1633 312.9L1635.5 405.7L1638.5 483.6L1639.5 500.2L1641 511.5L1642 516.2L1642.5 517.5L1643 518L1643.5 517L1644 514.4L1645 505.7L1646.5 488.2L1649.5 430L1651.5 406.1L1652.5 399L1653 398L1654 399L1655.5 403.2L1656.5 407.4L1660.5 444.9L1663 472.6L1664 479.1L1664.5 480L1665 479.1L1666 472.9L1672 422.6L1674 410.7L1676 402" fill="none" stroke="#000" stroke-width="4.2" stroke-linejoin="round"/><path d="M1675.5 402.2L1678 395.5L1680.5 385.5L1683 387.2L1685.5 384.3L1690.5 377.3L1693 374.9L1695.5 370.2L1698 366.7L1700.5 358.2L1703 353.2L1705.5 345.4L1708 345.3L1715.5 334.6L1718 334.2L1720.5 325.2L1723 327.3L1730.5 316L1733 310.1L1735.5 309.4L1738 310.5L1743 307.8L1745.5 302.6L1748 307.1L1750.5 307.8L1753 306.5L1755.5 303.6L1758 297.9L1760.5 303.2L1763 299L1765.5 290.6L1768 294.6L1770.5 285.4L1773 281L1775.5 277.7L1778 277.9L1780.5 269.5L1783 267.9L1785.5 268.7L1788 265.6L1790.5 258.5L1793 255.7L1795.5 250.5L1798 249.5L1800.5 249.8L1803 247L1805.5 243.2L1808 242.3L1810.5 234L1815.5 229.8L1818 225.2L1820.5 222.3L1825.5 210.8L1828 208.6L1830.5 201.1L1833 195.5L1835.5 197.4L1838 191.8L1840.5 188.8L1843 179.7L1845.5 179.2L1850.5 170.1L1853 162.5L1855.5 163.6L1858 162.8L1860.5 157.5L1863 151L1868 146.6L1870.5 133.5L1873 136.4L1875.5 134.2L1878 130.6L1880.5 129.2" fill="none" stroke="#000" stroke-width="9" stroke-linejoin="round"/><path d="M1108 326.9L1110 324.7L1112 323L1114.2 321.6L1116.5 320.6L1119.5 319.9L1123 319.6L1126.2 319.6L1128 320.3L1129.5 321.4L1131.2 323.1L1137 330.3L1139 333.7L1143.8 343.4L1146 347L1149.5 351.2L1151.5 353.3L1153.2 354.5L1155 354.8L1157 354.4L1159.2 353.6L1165.8 350.2L1180 343.6L1183.8 342.2L1187.2 341.4L1201 339.9L1224.5 338.5L1266.5 335.5L1280.2 334.1L1292 332.3L1297.2 330.7L1311.2 324.9L1318.5 321.8L1323.8 318.8L1325.2 318.4L1326.5 318.3L1328.2 318.9L1330.2 320.3L1336 325.2L1339 328.3L1341.8 332.3L1347 343.8L1349.5 348.3L1354 353.5L1355.5 354.6L1357 355L1359.8 354.4L1365.5 351.2L1378.5 345.7L1385.5 342.2L1388 341.2L1390 340.7L1396 340L1403.8 339.4L1446.2 337.2L1470 335.7L1485.2 334.3L1494.8 332.9L1502.2 330.9L1508.8 328.6L1520.5 322.7L1527.5 317.9L1529.2 317.4L1531.5 317.3L1535.8 317.7L1540 318.5L1540.8 318.8L1541.8 319.8L1543.8 322.8L1547.2 329.5L1551.5 339.8L1554.2 344.3L1555.8 346L1556.8 346.6L1558.8 346.5L1561.8 346.1L1565.2 345.3L1566.8 344.5L1568.5 342.9L1572.8 337.2L1575 332.7L1580 320.6L1586 304.5L1588.2 297.7L1589.5 292.8L1592 278.2L1592.8 275.5L1593.2 274.6L1595.5 272.2L1596.8 271.6L1597.5 271.8L1598.8 273.6L1601.8 281.1L1603 283.3L1605.2 285.9L1606.5 286.7L1607.2 286.7L1608 284.8L1612 265L1614 251.7L1615.2 238.7L1621.5 156.4L1622.2 150.3L1624 140.3L1625 136.4L1625.5 135.4L1626 135.1L1626.5 136.4L1627.2 141L1628.8 156.9L1629.5 168.5L1630.2 187.4L1631.5 227.4L1636 414.6L1638.5 502.2L1639.8 537L1640.2 544L1640.5 545.5L1640.8 545.5L1641.5 542.6L1642.5 533.8L1645 500L1648.5 430.5L1650.8 400.6L1652.2 385.7L1654.2 371.6L1656 361.9L1656.8 359.5L1657.2 358.7L1657.8 358.8L1658 359.4L1659 364.5L1661.2 381.9L1663.2 400.5L1664 405.1L1665.2 408.3L1666.8 411L1668 412.5L1669.2 413L1669.8 412.8L1670.2 412.1L1671.2 409.7L1674.8 396.8L1684.2 368L1685.8 364.4L1687.5 361.7L1690.2 358.2L1693.2 355.1L1704.2 345.3L1716.5 335.2L1727.2 324.7L1731 321.8L1734.2 320.1L1737 319.6L1739 320L1741.5 321.6L1744.2 324.4L1753.2 336.3L1755.5 340.5L1760.2 350.5L1762.5 354.4L1764.5 356.8L1766.2 357.6L1769.8 357L1773.5 355.3L1777 353L1785.5 346.6L1790 343.9L1793 342.9L1803.5 340.7L1813.2 339.3L1822.5 338.6L1852.8 337.5L1881 337.1" fill="none" stroke="#ffaaaa" stroke-width="3.5" stroke-linejoin="round"/><path d="M1108 326.9L1110 324.7L1112 323L1114.2 321.6L1116.5 320.6L1119.5 319.9L1123 319.6L1126.2 319.6L1128 320.3L1129.5 321.4L1131.2 323.1L1137 330.3L1139 333.7L1143.8 343.4L1146 347L1149.5 351.2L1151.5 353.3L1153.2 354.5L1155 354.8L1157 354.4L1159.2 353.6L1165.8 350.2L1180 343.6L1183.8 342.2L1187.2 341.4L1201 339.9L1224.5 338.5L1266.5 335.5L1280.2 334.1L1292 332.3L1297.2 330.7L1311.2 324.9L1318.5 321.8L1323.8 318.8L1325.2 318.4L1326.5 318.3L1328.2 318.9L1330.2 320.3L1336 325.2L1339 328.3L1341.8 332.3L1347 343.8L1349.5 348.3L1354 353.5L1355.5 354.6L1357 355L1359.8 354.4L1365.5 351.2L1378.5 345.7L1385.5 342.2L1388 341.2L1390 340.7L1396 340L1403.8 339.4L1446.2 337.2L1470 335.7L1485.2 334.3L1494.8 332.9L1502.2 330.9L1508.8 328.6L1520.5 322.7L1527.5 317.9L1529.2 317.4L1531.5 317.3L1535.8 317.7L1540 318.5L1540.8 318.8L1541.8 319.8L1543.8 322.8L1547.2 329.5L1551.5 339.8L1554.2 344.3L1555.8 346L1556.8 346.6L1558.8 346.5L1561.8 346.1L1565.2 345.3L1566.8 344.5L1568.5 342.9L1572.8 337.2L1575 332.7L1580 320.6L1586 304.5L1588.2 297.7L1589.5 292.8L1592 278.2L1592.8 275.5L1593.2 274.6L1595.5 272.2L1596.8 271.6L1597.5 271.8L1598.8 273.6L1601.8 281.1L1603 283.3L1605.2 285.9L1606.5 286.7L1607.2 286.7L1608 284.8L1612 265L1614 251.7L1615.2 238.7L1621.5 156.4L1622.2 150.3L1624 140.3L1625 136.4L1625.5 135.4L1626 135.1L1626.5 136.4L1627.2 141L1628.8 156.9L1629.5 168.5L1630.2 187.4L1631.5 227.4L1636 414.6L1638.5 502.2L1639.8 537L1640.2 544L1640.5 545.5L1640.8 545.5L1641.5 542.6L1642.5 533.8L1645 500L1648.5 430.5L1650.8 400.6L1652.2 385.7L1654.2 371.6L1656 361.9L1656.8 359.5L1657.2 358.7L1657.8 358.8L1658 359.4L1659 364.5L1661.2 381.9L1663.2 400.5L1664 405.1L1665.2 408.3L1666.8 411L1668 412.5L1669.2 413L1669.8 412.8L1670.2 412.1L1671.2 409.7L1674.8 396.8L1684.2 368L1685.8 364.4L1687.5 361.7L1690.2 358.2L1693.2 355.1L1704.2 345.3L1716.5 335.2L1727.2 324.7L1731 321.8L1734.2 320.1L1737 319.6L1739 320L1741.5 321.6L1744.2 324.4L1753.2 336.3L1755.5 340.5L1760.2 350.5L1762.5 354.4L1764.5 356.8L1766.2 357.6L1769.8 357L1773.5 355.3L1777 353L1785.5 346.6L1790 343.9L1793 342.9L1803.5 340.7L1813.2 339.3L1822.5 338.6L1852.8 337.5L1881 337.1" fill="none" stroke="#ff1414" stroke-width="3.5" stroke-linejoin="round" stroke-dasharray="4.5 4"/><path d="M1609 280.1L1612.5 262.1L1614.5 247.2L1620.5 167.9L1622 152.1L1624 140.3L1625.2 135.8L1625.8 135.1L1626 135.1L1626.2 135.5L1627.2 141L1629.2 163.7L1631 210L1636 414.6L1639.2 525.4L1640 541.2L1640.5 545.5L1640.8 545.5L1641.2 544L1642 538.8" fill="none" stroke="#f41c1c" stroke-width="4.4" stroke-linejoin="round"/></g><line x1="1376.2" y1="473" x2="1396.2" y2="300" stroke="#2a2a2a" stroke-width="3"/><path d="M1396.9 284.6 L1401.6 306 L1396.6 302 L1391.4 305.5 Z" fill="#1a1a1a"/><g font-family="Liberation Sans, Arial, sans-serif"><text x="120" y="127.8" font-size="44" font-weight="bold" fill="#0a0a0a">T400W</text><text transform="translate(120.5 184) scale(1 1.05)" font-size="44" fill="#202020">120 K</text><text x="707.5" y="131.8" font-size="53" font-weight="bold" fill="#0a0a0a">(a)</text><text transform="translate(582.5 348.2) scale(1 1.04)" font-size="44.5" fill="#202020">background</text><text transform="translate(99.5 584) scale(1 1.04)" font-size="42" fill="#202020">x 1.5</text><text transform="translate(602.5 576.5) scale(1 1.03)" font-size="44" fill="#202020" letter-spacing="2.5">Ti</text><text transform="translate(641 560.5) scale(1 1.08)" font-size="34" fill="#202020">3+</text><text x="675.5" y="587.5" font-size="30" fill="#202020">A</text><text transform="translate(695.8 576.5) scale(1 1.03)" font-size="44" fill="#202020" letter-spacing="0.4">(II)</text><text transform="translate(650 662.2) scale(1 1.04)" font-size="44" fill="#202020">F</text><text x="677.5" y="647" font-size="33" fill="#202020">+</text><text transform="translate(648.5 856.8) scale(1 1.09)" font-size="45" fill="#202020">A</text><text transform="translate(646 1002.2) scale(1 1.05)" font-size="46" fill="#202020">B</text><text transform="translate(643.5 1106.3) scale(1 1.06)" font-size="47" fill="#202020">C</text><text transform="translate(110.5 1256.8) scale(1 1.08)" font-size="41" text-anchor="middle" fill="#202020">1200</text><text transform="translate(317.1 1256.8) scale(1 1.08)" font-size="41" text-anchor="middle" fill="#202020">1220</text><text transform="translate(523.7 1256.8) scale(1 1.08)" font-size="41" text-anchor="middle" fill="#202020">1240</text><text transform="translate(730.3 1256.8) scale(1 1.08)" font-size="41" text-anchor="middle" fill="#202020">1260</text><text transform="translate(422.5 1321) scale(1 0.97)" font-size="44.5" font-weight="bold" text-anchor="middle" fill="#0a0a0a">Magnetic field (mT)</text><text transform="translate(1170 130.5) scale(1 1.03)" font-size="45" font-weight="bold" fill="#0a0a0a">T400B</text><text transform="translate(1172 186.5) scale(1 1.08)" font-size="44.5" fill="#202020">120 K</text><text transform="translate(1754.5 127.6) scale(1 1.02)" font-size="52" font-weight="bold" fill="#0a0a0a">(b)</text><text transform="translate(1244.5 511) scale(1 1.04)" font-size="45" fill="#202020">background</text><text transform="translate(1202 645) scale(1 1.06)" font-size="44" fill="#202020">F</text><text x="1230.5" y="629.5" font-size="35" fill="#202020">+</text><text transform="translate(1204.5 857.2) scale(1 1.07)" font-size="44.5" fill="#202020">A</text><text transform="translate(1798.5 861.5) scale(1 1.1)" font-size="42.5" fill="#202020">x 2</text><text transform="translate(1198.5 1032.2) scale(1 1.08)" font-size="46.5" fill="#202020">D</text><text transform="translate(1803 1017.5) scale(1 1.03)" font-size="42.5" fill="#202020">x 2</text><text transform="translate(1219.5 1257.2) scale(1 1.08)" font-size="41" text-anchor="middle" fill="#202020">1200</text><text transform="translate(1440.7 1257.2) scale(1 1.08)" font-size="41" text-anchor="middle" fill="#202020">1210</text><text transform="translate(1661.9 1257.2) scale(1 1.08)" font-size="41" text-anchor="middle" fill="#202020">1220</text><text transform="translate(1883.1 1257.2) scale(1 1.08)" font-size="41" text-anchor="middle" fill="#202020">1230</text><text transform="translate(1494.5 1321) scale(1 0.97)" font-size="44.5" font-weight="bold" text-anchor="middle" fill="#0a0a0a">Magnetic field (mT)</text></g></svg></body></html>
